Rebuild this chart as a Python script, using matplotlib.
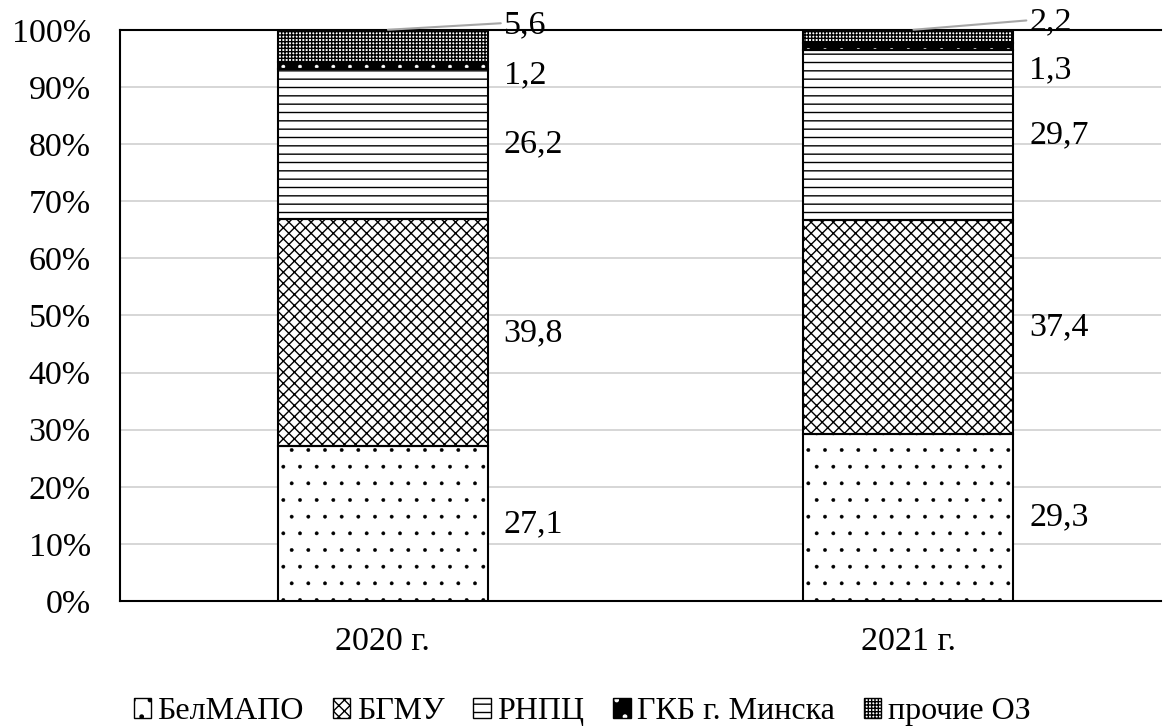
import matplotlib
matplotlib.use('Agg')
import matplotlib.pyplot as plt
from matplotlib.patches import Patch
import numpy as np

plt.rcParams['font.family'] = ['Liberation Serif', 'DejaVu Serif']

years = ['2020 г.', '2021 г.']
series = ['БелМАПО', 'БГМУ', 'РНПЦ', 'ГКБ г. Минска', 'прочие ОЗ']
belmapo = [27.1, 29.3]
bgmu = [39.8, 37.4]
rnpc = [26.2, 29.7]
gkb = [1.2, 1.3]
other = [5.6, 2.2]
values = [belmapo, bgmu, rnpc, gkb, other]

# face, hatch colour, hatch, hatch linewidth
styles = [
    ('white', 'black', '.', 0.3),
    ('white', 'black', 'xxx', 1.0),
    ('white', 'black', '--', 1.0),
    ('black', 'white', '.', 0.3),
    ('white', 'black', '+++++', 1.0),
]

fs = 24.5
fig = plt.figure(figsize=(11.64, 7.26), dpi=100)
ax = fig.add_axes([0.103, 0.172, 0.894, 0.787])

x = np.arange(len(years))
width = 0.4
bottom = np.zeros(len(years))
handles = []
for vals, (fc, hc, h, hlw) in zip(values, styles):
    with plt.rc_context({'hatch.linewidth': hlw}):
        ax.bar(x, vals, width, bottom=bottom, color=fc, edgecolor=hc, hatch=h, linewidth=0, zorder=3)
        hp = Patch(facecolor=fc, edgecolor=hc, hatch=h, linewidth=0)
    ax.bar(x, vals, width, bottom=bottom, fill=False, edgecolor='black', linewidth=1.5, zorder=4)
    handles.append((hp, Patch(fill=False, edgecolor='black', linewidth=1.0)))
    bottom += np.array(vals)

# value labels to the right of bars
tx = width / 2 + 0.03
cum = np.cumsum(values, axis=0)
for i in range(len(years)):
    for k in range(3):
        mid = cum[k][i] - values[k][i] / 2
        ax.text(x[i] + tx, mid, f'{values[k][i]:.1f}'.replace('.', ','),
                fontsize=fs, va='center', ha='left', zorder=5)
gkb_y = [92.1, 93.0]
oth_y = [100.9, 101.4]
for i in range(len(years)):
    ax.text(x[i] + tx, gkb_y[i], f'{gkb[i]:.1f}'.replace('.', ','),
            fontsize=fs, va='center', ha='left', zorder=5)
    ax.annotate(f'{other[i]:.1f}'.replace('.', ','), xy=(x[i] + 0.01, 100),
                xytext=(x[i] + tx, oth_y[i]), fontsize=fs, va='center', ha='left',
                annotation_clip=False, zorder=5,
                arrowprops=dict(arrowstyle='-', color='#a6a6a6', lw=1.5,
                                shrinkA=0, shrinkB=0, relpos=(0, 0.55)))

ax.set_xlim(-0.5, 1.48)
ax.set_ylim(0, 100)
ax.set_yticks(np.arange(0, 101, 10))
ax.set_yticklabels([f'{v}%' for v in range(0, 101, 10)], fontsize=fs)
ax.set_xticks(x)
ax.set_xticklabels(years, fontsize=fs)
ax.tick_params(axis='y', length=0, pad=21)
ax.tick_params(axis='x', length=0, pad=18)
ax.yaxis.grid(True, color='#d0d0d0', linewidth=1.2, zorder=0)
ax.set_axisbelow(True)
ax.spines['right'].set_visible(False)
for s in ['left', 'bottom', 'top']:
    ax.spines[s].set_linewidth(1.5)
    ax.spines[s].set_color('black')

fig.legend(handles, series, loc='lower center', bbox_to_anchor=(0.5, -0.04), ncol=5,
           frameon=False, fontsize=23, handlelength=0.55, handleheight=0.55,
           handletextpad=0.2, columnspacing=0.9)

fig.savefig('out.png', dpi=100)
